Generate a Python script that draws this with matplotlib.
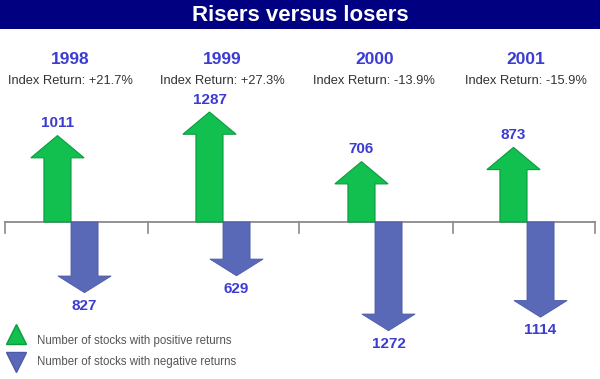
import matplotlib
matplotlib.use("Agg")
import matplotlib.pyplot as plt
from matplotlib import font_manager
from matplotlib.patches import Rectangle
import matplotlib.transforms as mtransforms

years = ["1998", "1999", "2000", "2001"]
index_returns = ["+21.7%", "+27.3%", "-13.9%", "-15.9%"]
risers = [1011, 1287, 706, 873]
losers = [827, 629, 1272, 1114]

legend_labels = ["Number of stocks with positive returns",
                 "Number of stocks with negative returns"]

names = {f.name for f in font_manager.fontManager.ttflist}
has_narrow = "Liberation Sans Narrow" in names
narrow = "Liberation Sans Narrow" if has_narrow else "Liberation Sans"
plt.rcParams['font.family'] = ['Liberation Sans', 'DejaVu Sans']

green = "#12c050"
green_edge = "#0a9c3e"
blue = "#5a68b8"
blue_edge = "#4c5aa8"
label_blue = "#3c3cd2"

W, H = 600, 379
fig = plt.figure(figsize=(6.0, 3.79), dpi=100)
ax = fig.add_axes([0, 0, 1, 1])
ax.set_xlim(-71 / 152, (W - 71) / 152)
ax.set_ylim(-(H - 222) * 11.7, 222 * 11.7)
ax.axis('off')

# title bar
fig.patches.append(Rectangle((0, 1 - 29 / H), 1, 29 / H, transform=fig.transFigure,
                             facecolor="#000080", edgecolor="none", zorder=0))
fig.text(0.5, 1 - 15.5 / H, "Risers versus losers", color="white", fontsize=16,
         fontweight="bold", ha="center", va="center")

# baseline with ticks
ax.plot([-0.434, 3.45], [0, 0], color="#8a8a8a", lw=1.3, zorder=1)
for t in [-0.434, 0.507, 1.5, 2.51, 3.45]:
    ax.plot([t, t], [0, -11 * 11.7], color="#8a8a8a", lw=1.2, zorder=1)

shaft = 0.178
head_w = 0.35
head_l = 260

big = 13.5 if has_narrow else 12.5
small = 11.5 if has_narrow else 11

for i, (up, dn) in enumerate(zip(risers, losers)):
    xu = i - shaft / 2
    xd = i + shaft / 2
    ax.arrow(xu, 0, 0, up, width=shaft, head_width=head_w, head_length=head_l,
             length_includes_head=True, facecolor=green, edgecolor=green_edge,
             lw=0.8, zorder=3)
    ax.arrow(xd, 0, 0, -dn, width=shaft, head_width=head_w, head_length=head_l * 0.75,
             length_includes_head=True, facecolor=blue, edgecolor=blue_edge,
             lw=0.6, zorder=3)
    ax.annotate(str(up), (xu, up), xytext=(0, 9), textcoords="offset points",
                ha="center", va="center", color=label_blue, fontsize=small,
                family=narrow, fontweight="bold")
    ax.annotate(str(dn), (xd, -dn), xytext=(0, -9.5), textcoords="offset points",
                ha="center", va="center", color=label_blue, fontsize=small,
                family=narrow, fontweight="bold")

trans = mtransforms.blended_transform_factory(ax.transData, ax.transAxes)
for i, (yr, r) in enumerate(zip(years, index_returns)):
    ax.text(i - 0.005, 1 - 60 / H, yr, transform=trans, ha="center", va="center",
            color=label_blue, fontsize=big, family=narrow, fontweight="bold")
    ax.text(i - 0.005, 1 - 81 / H, "Index Return: " + r, transform=trans,
            ha="center", va="center", color="#333333", fontsize=9.3)

# legend
ax.plot([16 / W], [1 - 334 / H], marker="^", markersize=15, color=green,
        markeredgecolor=green_edge, transform=ax.transAxes, clip_on=False)
ax.plot([16 / W], [1 - 362 / H], marker="v", markersize=15, color=blue,
        markeredgecolor=blue_edge, transform=ax.transAxes, clip_on=False)
ax.text(37 / W, 1 - 341 / H, legend_labels[0], transform=ax.transAxes,
        ha="left", va="center", color="#555555", fontsize=8.3)
ax.text(37 / W, 1 - 362 / H, legend_labels[1], transform=ax.transAxes,
        ha="left", va="center", color="#555555", fontsize=8.3)

fig.savefig("out.png", dpi=100)
